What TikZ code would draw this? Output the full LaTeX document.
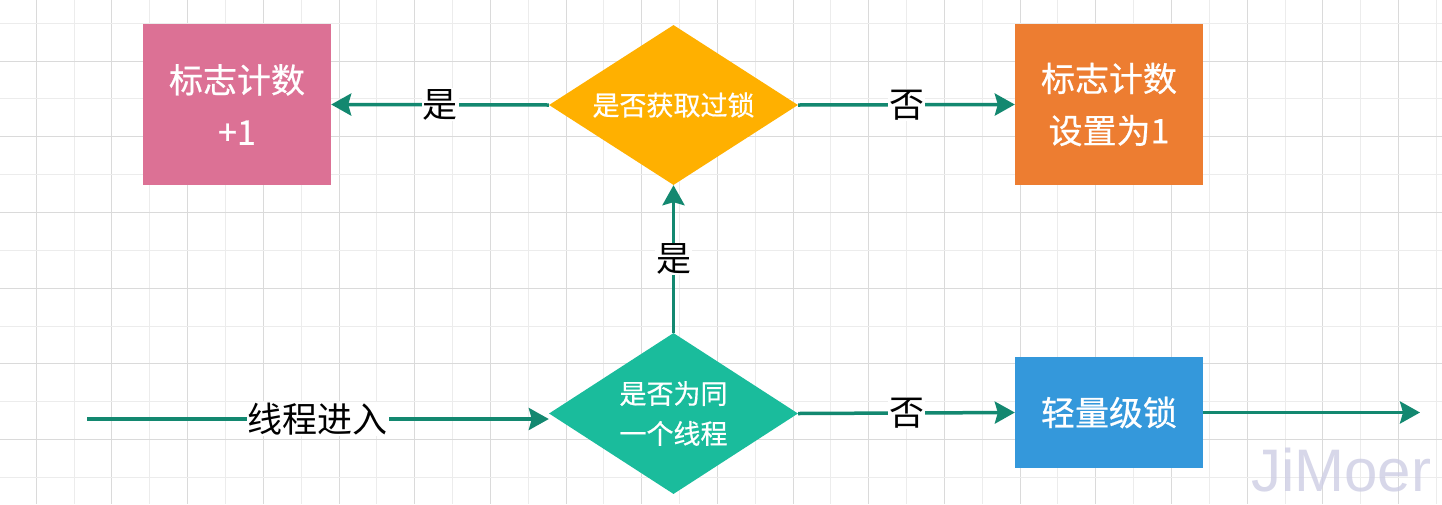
\documentclass[tikz,border=0pt]{standalone}
\usepackage{fontspec}
\setmainfont{Noto Sans CJK SC}
\newfontfamily\boxfont[FakeBold=0.6]{Noto Sans CJK SC}
\newfontfamily\wmfont{Liberation Sans}
\usetikzlibrary{shapes.geometric,arrows.meta}
\definecolor{cpink}{RGB}{220,113,149}
\definecolor{cgold}{RGB}{255,176,0}
\definecolor{corange}{RGB}{237,125,49}
\definecolor{cteal}{RGB}{26,188,156}
\definecolor{cblue}{RGB}{52,152,219}
\definecolor{carrow}{RGB}{19,136,112}
\definecolor{gdark}{RGB}{218,218,218}
\definecolor{glight}{RGB}{236,236,236}
\definecolor{wm}{RGB}{205,205,228}
\tikzset{
  box/.style={rectangle, inner sep=0pt, text=white, align=center,
    font=\boxfont\fontsize{34}{52}\selectfont},
  dia/.style={diamond, aspect=1.556, inner sep=0pt, minimum width=249pt,
    minimum height=160pt, text=white, align=center,
    font=\boxfont\fontsize{27}{40}\selectfont},
  arr/.style={draw=carrow, line width=3.5pt,
    -{Stealth[length=20pt,width=22pt,inset=3pt]}},
  lbl/.style={fill=white, inner sep=1pt, text=black,
    font=\fontsize{35}{40}\selectfont},
}
\begin{document}
\begin{tikzpicture}[x=1pt,y=-1pt]
\useasboundingbox (0,0) rectangle (1442,504);
\fill[white] (0,0) rectangle (1442,504);
% grid
\foreach \i in {0,...,37}{
  \pgfmathsetmacro{\gx}{36.3+37.84*\i}
  \pgfmathtruncatemacro{\odd}{mod(\i,2)}
  \ifnum\odd=0
    \draw[gdark, line width=1pt] (\gx,0) -- (\gx,504);
  \else
    \draw[glight, line width=1pt] (\gx,0) -- (\gx,504);
  \fi
}
\foreach \j in {0,...,12}{
  \pgfmathsetmacro{\gy}{23.3+37.84*\j}
  \pgfmathtruncatemacro{\odd}{mod(\j,2)}
  \ifnum\odd=1
    \draw[gdark, line width=1pt] (0,\gy) -- (1442,\gy);
  \else
    \draw[glight, line width=1pt] (0,\gy) -- (1442,\gy);
  \fi
}
% watermark
\node[text=wm, opacity=0.8, font=\wmfont\fontsize{60}{60}\selectfont, inner sep=0pt, anchor=base] (wmk) at (1341,491) {JiMoer};
% shapes
\node[box, fill=cpink, minimum width=188pt, minimum height=161pt] (box1) at (237,104.5) {标志计数\\+1};
\node[dia, fill=cgold] (dia1) at (673.5,105) {是否获取过锁};
\node[box, fill=corange, minimum width=188pt, minimum height=161pt] (box2) at (1109,104.5) {标志计数\\设置为1};
\node[dia, fill=cteal, minimum height=161pt] (dia2) at (673.5,413.5) {是否为同\\一个线程};
\node[box, fill=cblue, minimum width=188pt, minimum height=111pt] (box3) at (1109,412.5) {轻量级锁};
\coordinate (in) at (87,419);
\coordinate (out) at (1420,412.5);
% connectors
\draw[arr] (in) -- (in -| dia2.west) node[lbl, midway] (l5) {线程进入};
\draw[arr] (dia2.north) -- (dia1.south) node[lbl, midway] (l3) {是};
\draw[arr] (dia1.west) -- (box1.east) node[lbl, midway] (l1) {是};
\draw[arr] (dia1.east) -- (box2.west) node[lbl, midway] (l2) {否};
\draw[arr] (dia2.east) -- (box3.west) node[lbl, midway] (l4) {否};
\draw[arr] (box3.east) -- (out);
\end{tikzpicture}
\end{document}
